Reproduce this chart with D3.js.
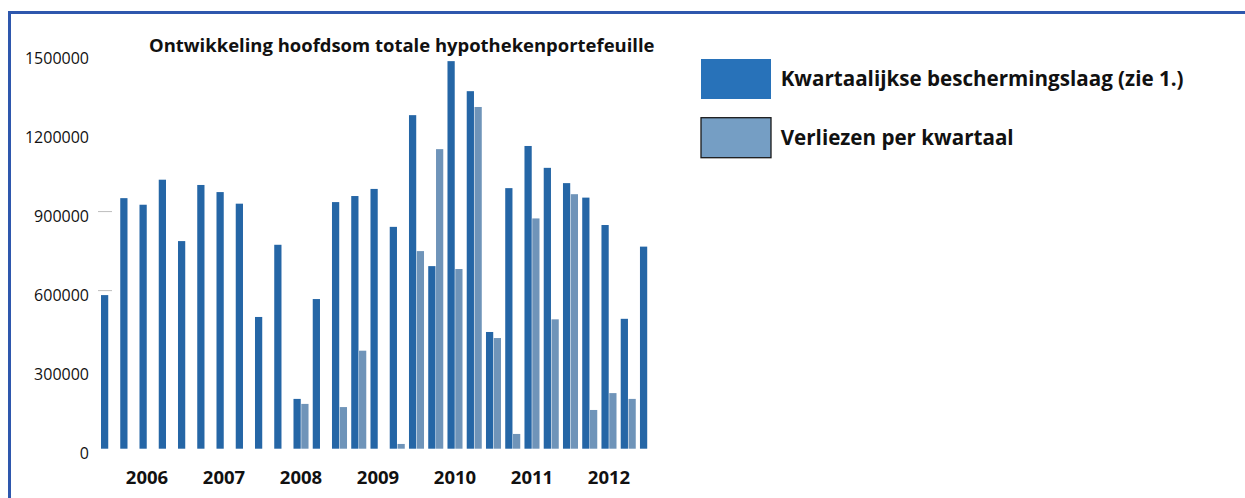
<!DOCTYPE html>
<html>
<head>
<meta charset="utf-8">
<script src="https://cdn.jsdelivr.net/npm/d3@7"></script>
<style>
  body { margin: 0; background: #fff; }
  svg { display: block; font-family: "Open Sans", "Noto Sans", sans-serif; }
</style>
</head>
<body>
<div id="chart"></div>
<script>
// quarters from 2005 K4 up to 2012 K4
var quarters = ["2005 K4",
  "2006 K1", "2006 K2", "2006 K3", "2006 K4",
  "2007 K1", "2007 K2", "2007 K3", "2007 K4",
  "2008 K1", "2008 K2", "2008 K3", "2008 K4",
  "2009 K1", "2009 K2", "2009 K3", "2009 K4",
  "2010 K1", "2010 K2", "2010 K3", "2010 K4",
  "2011 K1", "2011 K2", "2011 K3", "2011 K4",
  "2012 K1", "2012 K2", "2012 K3", "2012 K4"]

var bescherming = [583000, 951000, 926000, 1021000, 788000, 1001000, 974000, 930000,
  500000, 774000, 189000, 568000, 936000, 959000, 986000, 842000,
  1266000, 693000, 1471000, 1357000, 443000, 989000, 1149000, 1066000,
  1008000, 953000, 849000, 493000, 767000]

var verliezen = [0, 0, 0, 0, 0, 0, 0, 0,
  0, 0, 170000, 0, 158000, 372000, 0, 18000,
  750000, 1137000, 682000, 1297000, 420000, 56000, 874000, 491000,
  966000, 147000, 211000, 189000, 0]

var seriesNames = ["Kwartaalijkse beschermingslaag (zie 1.)", "Verliezen per kwartaal"]
var yTicks = [0, 300000, 600000, 900000, 1200000, 1500000]
var gridTicks = [600000, 900000]
var yearTicks = ["2006 K2", "2007 K2", "2008 K2", "2009 K2", "2010 K2", "2011 K2", "2012 K2"]
var title = "Ontwikkeling hoofdsom totale hypothekenportefeuille"

var W = 1245, H = 498
var darkBlue = "#2566a6", lightBlue = "#6f94b9"

var svg = d3.select("#chart").append("svg")
  .attr("width", W)
  .attr("height", H)

// shrink/grow a text so it fills a given width
function fitWidth(sel, width){
  sel.each(function(){
    var fs = parseFloat(d3.select(this).attr("font-size"))
    var w = this.getComputedTextLength()
    d3.select(this).attr("font-size", (fs * width / w).toFixed(2))
  })
}

// frame
svg.append("path")
  .attr("d", "M9.5," + H + " V12.5 H" + W)
  .attr("fill", "none")
  .attr("stroke", "#2e57ad")
  .attr("stroke-width", 3)

var x = d3.scaleBand()
  .domain(quarters)
  .range([101, 655])
  .paddingInner(0.219)
  .paddingOuter(0)

var xSub = d3.scaleBand()
  .domain([0, 1])
  .range([0, x.bandwidth()])
  .paddingInner(0.07)

var y = d3.scaleLinear()
  .domain([0, 1500000])
  .range([448.7, 53.5])

// short grey tick lines
svg.selectAll(".grid")
  .data(gridTicks)
  .enter()
    .append("line")
    .attr("class", "grid")
    .attr("x1", 98).attr("x2", 112)
    .attr("y1", (d)=>(y(d))).attr("y2", (d)=>(y(d)))
    .attr("stroke", "#bdbdbd")
    .attr("stroke-width", 1)

// y axis labels
var yAxis = svg.append("g")
  .attr("transform", "translate(89,0)")
  .call(d3.axisLeft(y).tickValues(yTicks).tickSize(0).tickPadding(0).tickFormat(d3.format("d")))
yAxis.select(".domain").remove()
yAxis.selectAll("text")
  .attr("dy", "10")
  .attr("fill", "#111")
  .attr("font-size", 16)
  .style("font-family", "'Open Sans', sans-serif")

// year labels
var xAxis = svg.append("g")
  .attr("transform", "translate(0,448.7)")
  .call(d3.axisBottom(x).tickValues(yearTicks).tickSize(0).tickPadding(0)
    .tickFormat((d)=>(d.split(" ")[0])))
xAxis.select(".domain").remove()
xAxis.selectAll("text")
  .attr("dy", "35.5")
  .attr("fill", "#111")
  .attr("font-weight", "bold")
  .attr("font-size", 18.5)
  .style("font-family", "'Open Sans', sans-serif")

// bars
var groups = svg.selectAll(".kwartaal")
  .data(quarters)
  .enter()
    .append("g")
    .attr("class", "kwartaal")
    .attr("transform", (d)=>("translate(" + x(d) + ",0)"))

groups.append("rect")
  .attr("x", xSub(0))
  .attr("width", xSub.bandwidth())
  .attr("y", (d,i)=>(y(bescherming[i])))
  .attr("height", (d,i)=>(y(0) - y(bescherming[i])))
  .attr("fill", darkBlue)

groups.filter((d,i)=>(verliezen[i] > 0))
  .append("rect")
  .attr("x", xSub(1))
  .attr("width", xSub.bandwidth())
  .attr("y", (d)=>(y(verliezen[quarters.indexOf(d)])))
  .attr("height", (d)=>(y(0) - y(verliezen[quarters.indexOf(d)])))
  .attr("fill", lightBlue)

// title
svg.append("text")
  .attr("x", 149)
  .attr("y", 52.3)
  .attr("font-size", 15)
  .attr("font-weight", "bold")
  .attr("fill", "#111")
  .text(title)
  .call(fitWidth, 506)

// legend
var legend = svg.selectAll(".legend")
  .data(seriesNames)
  .enter()
    .append("g")
    .attr("class", "legend")
    .attr("transform", (d,i)=>("translate(701," + (59 + i * 58.7) + ")"))

legend.append("rect")
  .attr("width", 70)
  .attr("height", 40)
  .attr("fill", (d,i)=>(i == 0 ? "#2872b9" : "#759ec4"))
  .attr("stroke", (d,i)=>(i == 0 ? "none" : "#1a1a1a"))
  .attr("stroke-width", 1.3)

legend.append("text")
  .attr("x", 79.7)
  .attr("y", 27.2)
  .attr("font-size", 20)
  .attr("font-weight", "bold")
  .attr("fill", "#111")
  .text((d)=>(d))

fitWidth(legend.filter((d,i)=>(i == 0)).select("text"), 403)
legend.filter((d,i)=>(i == 1)).select("text")
  .attr("font-size", legend.filter((d,i)=>(i == 0)).select("text").attr("font-size"))
</script>
</body>
</html>
